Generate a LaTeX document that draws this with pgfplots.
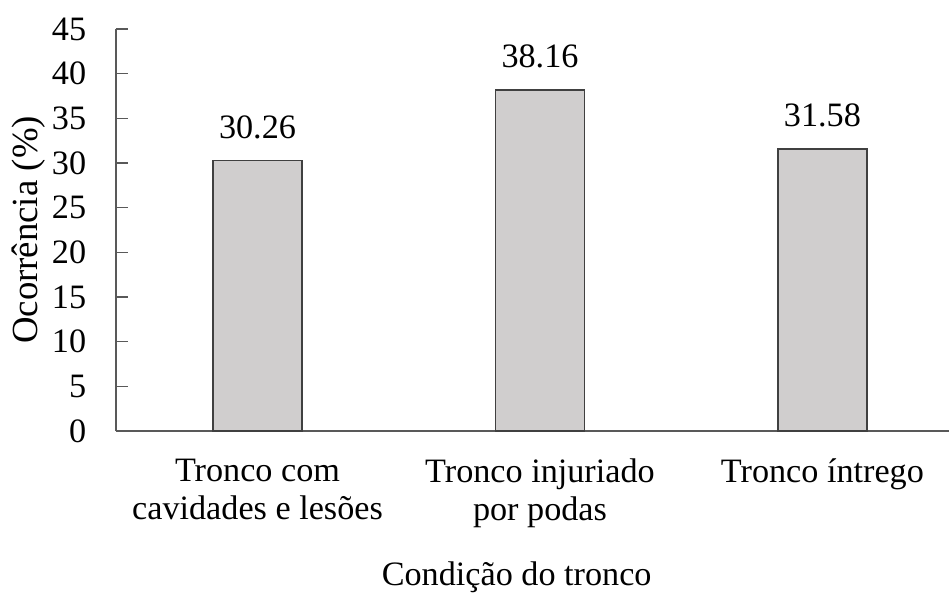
\documentclass[border=0pt]{standalone}
\usepackage{fontspec}
\setmainfont{Liberation Serif}
\usepackage{pgfplots}
\pgfplotsset{compat=1.18}
\definecolor{barfill}{HTML}{D0CECE}
\definecolor{baredge}{HTML}{404040}
\definecolor{axgray}{HTML}{595959}
\begin{document}
\fontsize{17.1}{20}\selectfont
\begin{tikzpicture}
\useasboundingbox (-58pt,-82pt) rectangle (417pt,215.5pt);
\begin{axis}[
  at={(0,0)}, anchor=south west,
  scale only axis,
  width=416.5pt, height=201pt,
  ymin=0, ymax=45,
  xmin=-0.501, xmax=2.448,
  ytick={0,5,...,45},
  xtick={0,1,2},
  xticklabels={Tronco com\\cavidades e lesões, Tronco injuriado\\por podas, Tronco íntrego},
  xticklabel style={align=center, font=\fontsize{17.1}{19.2}\selectfont, yshift=-2pt},
  xtick style={draw=none},
  ytick style={axgray, line width=0.8pt},
  major tick length=6pt,
  tick align=inside,
  axis x line*=bottom,
  axis y line*=left,
  axis line style={axgray, line width=0.8pt, -},
  yticklabel style={xshift=-9pt},
  /pgf/number format/assume math mode=true,
  ybar,
  bar width=44.5pt,
  bar shift=0pt,
  nodes near coords={\pgfmathprintnumber[fixed,fixed zerofill,precision=2,assume math mode=true]{\pgfplotspointmeta}},
  every node near coord/.append style={yshift=5pt, font=\fontsize{17.1}{20}\selectfont},
  ylabel={Ocorrência (\%)},
  ylabel style={at={(axis description cs:-0.105,0.5)}, anchor=center, rotate=0, font=\fontsize{18.4}{21}\selectfont},
  xlabel={Condição do tronco},
  xlabel style={at={(axis description cs:0.481,0)}, anchor=base, yshift=-77.5pt},
  clip=false,
]
\addplot[fill=barfill, draw=baredge, line width=0.8pt] coordinates {(0,30.26) (1,38.16) (2,31.58)};
\end{axis}
\end{tikzpicture}
\end{document}
